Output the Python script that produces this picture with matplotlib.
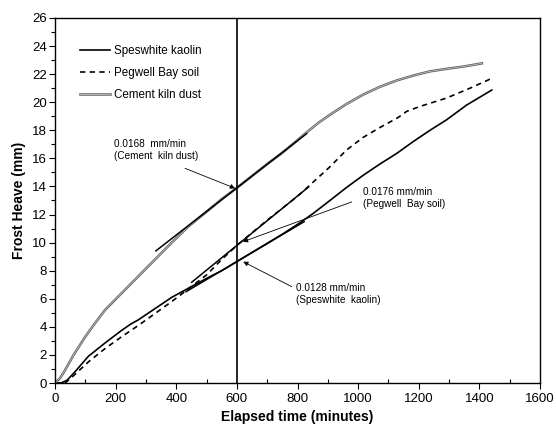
import matplotlib
matplotlib.use("Agg")
import matplotlib.pyplot as plt
import matplotlib.patheffects as pe
from matplotlib.ticker import MultipleLocator

plt.rcParams['font.family'] = ['Liberation Sans', 'DejaVu Sans']

# Speswhite kaolin
kaolin_t = [0, 20, 40, 66, 90, 110, 165, 220, 250, 275, 330, 385, 440, 500, 550, 600, 650, 700,
            750, 800, 850, 907, 960, 1017, 1072, 1127, 1182, 1237, 1292, 1358, 1441]
kaolin_h = [0, 0, 0.2, 0.8, 1.4, 1.9, 2.85, 3.75, 4.2, 4.5, 5.3, 6.1, 6.75, 7.45, 8.0, 8.65, 9.3, 9.95,
            10.6, 11.3, 12.05, 13.0, 13.9, 14.8, 15.6, 16.35, 17.2, 18.0, 18.75, 19.8, 20.87]

# Pegwell Bay soil
pegwell_t = [0, 33, 50, 80, 110, 165, 220, 275, 330, 385, 440, 500, 550, 600, 650, 700, 750, 800,
             836, 907, 962, 1017, 1072, 1127, 1145, 1160, 1204, 1292, 1369, 1441]
pegwell_h = [0, 0, 0.3, 0.9, 1.5, 2.45, 3.3, 4.1, 4.95, 5.8, 6.7, 7.7, 8.8, 9.8, 10.7, 11.6, 12.45, 13.3,
             14.0, 15.4, 16.6, 17.5, 18.2, 18.85, 19.1, 19.35, 19.7, 20.3, 21.0, 21.7]

# Cement kiln dust
cement_t = [0, 15, 30, 60, 100, 130, 165, 220, 275, 330, 385, 440, 500, 550, 600, 650, 700, 750, 800,
            830, 870, 910, 960, 1017, 1072, 1127, 1182, 1237, 1292, 1350, 1408]
cement_h = [0, 0.3, 0.8, 1.95, 3.3, 4.2, 5.2, 6.4, 7.6, 8.8, 10.0, 11.15, 12.2, 13.1, 13.9, 14.75, 15.6, 16.4, 17.3,
            17.85, 18.55, 19.15, 19.85, 20.55, 21.1, 21.55, 21.9, 22.2, 22.38, 22.55, 22.77]

# Tangent lines (rates in mm/min through the point at 600 min)
tan_t0 = 600
cement_rate, cement_h0, cement_range = 0.0168, 13.9, [333, 830]
pegwell_rate, pegwell_h0, pegwell_range = 0.0176, 9.8, [451, 836]
kaolin_rate, kaolin_h0, kaolin_range = 0.0128, 8.65, [432, 822]

x_ticks = [0, 200, 400, 600, 800, 1000, 1200, 1400, 1600]
y_ticks = list(range(0, 27, 2))

fig = plt.figure(figsize=(5.56, 4.26), dpi=100)
ax = fig.add_axes([55/556, 1-383/426, 485/556, 365/426])

ax.plot(kaolin_t, kaolin_h, color='black', lw=1.2, label='Speswhite kaolin')
ax.plot(pegwell_t, pegwell_h, color='black', lw=1.2, ls=(0, (3.2, 2.6)), label='Pegwell Bay soil')
ax.plot(cement_t, cement_h, color='#c0c0c0', lw=0.6, label='Cement kiln dust',
        path_effects=[pe.Stroke(linewidth=1.8, foreground='#606060'), pe.Normal()])

def tangent(rate, h0, rng):
    xs = rng
    ys = [h0 + rate * (x - tan_t0) for x in xs]
    ax.plot(xs, ys, color='black', lw=1.1)

tangent(cement_rate, cement_h0, cement_range)
tangent(pegwell_rate, pegwell_h0, pegwell_range)
tangent(kaolin_rate, kaolin_h0, kaolin_range)

ax.axvline(600, color='black', lw=1.2)

# Annotations
arrow = dict(arrowstyle='-|>', lw=0.6, color='black', mutation_scale=7, shrinkA=0, shrinkB=0)
ax.annotate('', xy=(594, 13.87), xytext=(429, 15.29), arrowprops=arrow)
ax.annotate('', xy=(620, 10.06), xytext=(979, 12.9), arrowprops=arrow)
ax.annotate('', xy=(621, 8.64), xytext=(781, 6.86), arrowprops=arrow)

ax.text(193, 16.6, '0.0168  mm/min\n(Cement  kiln dust)', fontsize=7.2, va='center', ha='left', linespacing=1.25)
ax.text(1017, 13.2, '0.0176 mm/min\n(Pegwell  Bay soil)', fontsize=7.2, va='center', ha='left', linespacing=1.25)
ax.text(795, 6.37, '0.0128 mm/min\n(Speswhite  kaolin)', fontsize=7.2, va='center', ha='left', linespacing=1.25)

ax.set_xlim(0, 1600)
ax.set_ylim(0, 26)
ax.set_xticks(x_ticks)
ax.set_yticks(y_ticks)
ax.xaxis.set_minor_locator(MultipleLocator(100))
ax.yaxis.set_minor_locator(MultipleLocator(1))
ax.tick_params(axis='x', which='major', direction='out', length=4, width=0.8, labelsize=9.5, pad=3)
ax.tick_params(axis='x', which='minor', direction='in', length=3, width=0.8)
ax.tick_params(axis='y', which='major', direction='out', length=4, width=0.8, labelsize=9.5, pad=2)
ax.tick_params(axis='y', which='minor', direction='out', length=3, width=0.8)
for s in ax.spines.values():
    s.set_linewidth(1.0)

ax.set_xlabel('Elapsed time (minutes)', fontsize=10, fontweight='bold', labelpad=4)
ax.set_ylabel('Frost Heave (mm)', fontsize=10, fontweight='bold', labelpad=4)

leg = ax.legend(loc='upper left', bbox_to_anchor=(0.0515, 0.927), frameon=False, fontsize=8.4,
                borderaxespad=0, borderpad=0, handlelength=2.6, handletextpad=0.35, labelspacing=0.86)

fig.savefig('out.png', dpi=100)
